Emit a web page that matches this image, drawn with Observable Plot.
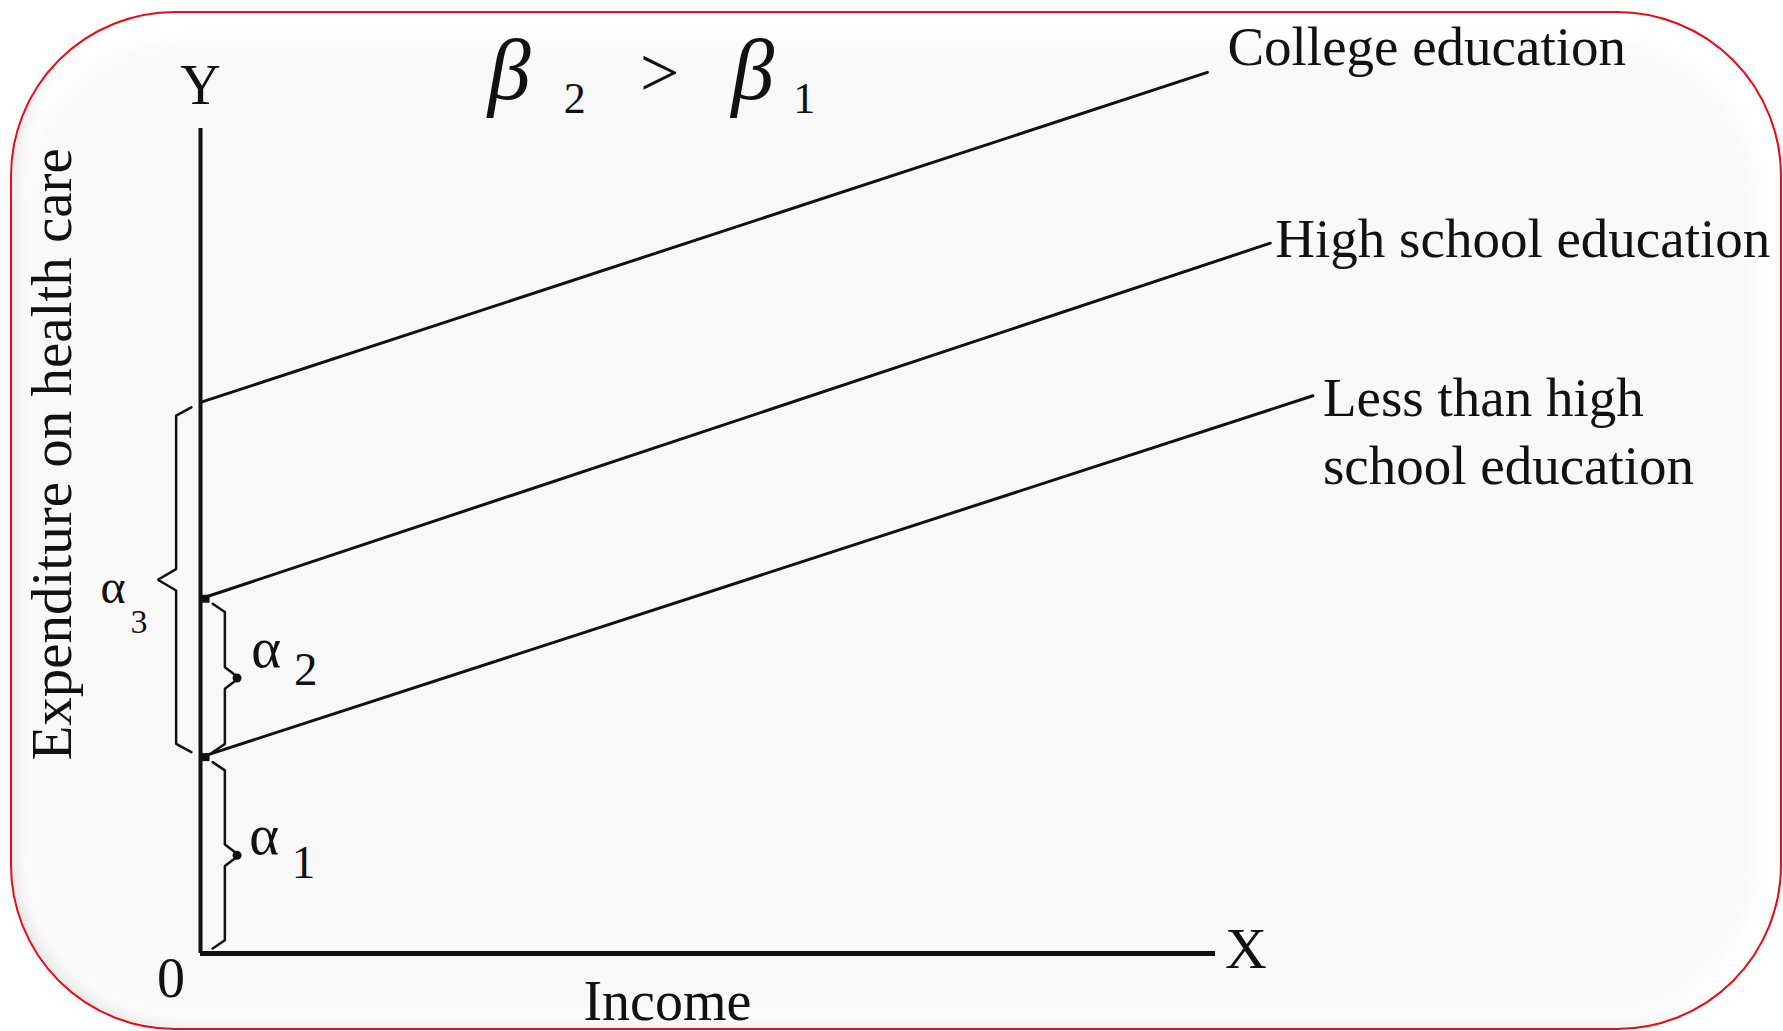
<!DOCTYPE html>
<html><head><meta charset="utf-8">
<script src="https://cdn.jsdelivr.net/npm/d3@7"></script>
<script src="https://cdn.jsdelivr.net/npm/@observablehq/plot@0.6"></script>
<style>
html,body{margin:0;padding:0;width:1783px;height:1031px;overflow:hidden;background:#fff;}
#wrap{position:relative;width:1783px;height:1031px;}
#frame{position:absolute;left:10px;top:11px;width:1768px;height:1015px;border:2px solid #e60d14;border-radius:165px;background:#fff;overflow:hidden;box-shadow:inset 14px -10px 18px -8px rgba(0,0,0,0.10);}
#panel{position:absolute;left:16px;top:30px;right:26px;bottom:12px;border-radius:150px;background:#f8f8f8;filter:blur(9px);}
#chart{position:absolute;left:0;top:0;}
</style></head><body>
<div id="wrap"><div id="frame"><div id="panel"></div></div><div id="chart"></div></div>
<script>
// ---- data ----
const groups = ["College education", "High school education", "Less than high school education"];
const groupLabels = ["College education", "High school education", "Less than high\nschool education"];
const intercepts = [66.8, 43.0, 23.8];   // y at income 0
const endX = [99.2, 105.4, 109.6];       // income at right end of each line
const endY = [106.8, 86.1, 67.6];        // expenditure at right end

const braceNames = ["α", "α", "α"];
const braceSubs = ["1", "2", "3"];
const braceFrom = [0, intercepts[2], intercepts[2]];
const braceTo = [intercepts[2], intercepts[1], intercepts[0]];
const braceSide = [1, 1, -1];

// ---- tables built from the arrays ----
const lineData = groups.flatMap((g, i) => [
  {g, x: 0, y: intercepts[i]},
  {g, x: endX[i], y: endY[i]}
]);
const endData = groups.map((g, i) => ({g, label: groupLabels[i], x: endX[i], y: endY[i]}));

// brace styling (offsets in scale units)
function bracePoints(i) {
  const s = braceSide[i], lo = braceFrom[i], hi = braceTo[i], mid = (lo + hi) / 2;
  const xb = s > 0 ? 2.4 : -2.4, xt = s > 0 ? 3.8 : -4.2, xh = s > 0 ? 1.2 : -0.9;
  return [
    [xh, lo + 0.6], [xb, lo + 1.6], [xb, mid - 1.3], [xt, mid],
    [xb, mid + 1.3], [xb, hi - 1.6], [xh, hi - 0.6]
  ].map(([x, y]) => ({b: i, x, y}));
}
const braceData = braceFrom.flatMap((_, i) => bracePoints(i));
const tipData = braceFrom.map((lo, i) => ({side: braceSide[i], x: braceSide[i] > 0 ? 3.6 : -4.2, y: (lo + braceTo[i]) / 2}))
  .filter(d => d.side > 0);
const interceptDots = [intercepts[1], intercepts[2]].map(y => ({x: 0.5, y}));

// label placement (style)
const labelOffsets = [{dx: 20, dy: -7}, {dx: 5, dy: 14}, {dx: 10, dy: 88}];
const alphaPos = [
  {x: 4.8, y: 12.1, sx: 9.0, sy: 9.2, size: 57, subSize: 47},
  {x: 5.0, y: 34.7, sx: 9.2, sy: 32.5, size: 57, subSize: 47},
  {x: -9.85, y: 42.5, sx: -6.9, sy: 38.9, size: 48, subSize: 34}
];

const font = "Liberation Serif";
const txt = (data, opts) => Plot.text(data, {fill: "#111", fontFamily: font, lineAnchor: "bottom", ...opts});

const chart = Plot.plot({
  width: 1783, height: 1031,
  marginLeft: 200, marginRight: 568, marginTop: 128, marginBottom: 78,
  x: {domain: [0, 100], axis: null},
  y: {domain: [0, 100], axis: null},
  style: {background: "transparent", fontFamily: font, overflow: "visible"},
  marks: [
    // axes
    Plot.ruleX([0], {x: d => d, y1: 0, y2: 100, stroke: "#111", strokeWidth: 4}),
    Plot.ruleY([0], {y: d => d, x1: 0, x2: 100, stroke: "#111", strokeWidth: 5}),
    // regression lines
    Plot.line(lineData, {x: "x", y: "y", z: "g", stroke: "#111", strokeWidth: 3}),
    // braces
    Plot.line(braceData, {x: "x", y: "y", z: "b", stroke: "#111", strokeWidth: 2.5, strokeLinejoin: "miter"}),
    Plot.dot(tipData, {x: "x", y: "y", r: 4.5, fill: "#111", stroke: "none"}),
    Plot.dot(interceptDots, {x: "x", y: "y", r: 4.5, symbol: "square", fill: "#111"}),
    // line end labels
    ...endData.map((d, i) => txt([d], {x: "x", y: "y", text: "label", fontSize: 55, textAnchor: "start",
      lineHeight: 1.236, dx: labelOffsets[i].dx, dy: labelOffsets[i].dy})),
    // axis labels
    txt(["Y"], {x: 0, y: 103, text: d => d, fontSize: 56, textAnchor: "middle"}),
    txt(["X"], {x: 103, y: -1.8, text: d => d, fontSize: 58, textAnchor: "middle"}),
    txt(["0"], {x: -2.9, y: -5.3, text: d => d, fontSize: 56, textAnchor: "middle"}),
    txt(["Income"], {x: 46, y: -8.1, text: d => d, fontSize: 56, textAnchor: "middle"}),
    txt(["Expenditure on health care"], {x: -12.8, y: 60.5, text: d => d, fontSize: 57, rotate: -90, textAnchor: "middle"}),
    // title β2 > β1
    txt(["β"], {x: 28.3, y: 103.6, text: d => d, fontSize: 86, fontStyle: "italic", textAnchor: "start"}),
    txt(["2"], {x: 35.8, y: 101.9, text: d => d, fontSize: 44, textAnchor: "start"}),
    txt([">"], {x: 43.3, y: 103.9, text: d => d, fontSize: 70, textAnchor: "start"}),
    txt(["β"], {x: 52.3, y: 103.6, text: d => d, fontSize: 86, fontStyle: "italic", textAnchor: "start"}),
    txt(["1"], {x: 58.4, y: 101.9, text: d => d, fontSize: 44, textAnchor: "start"}),
    // alpha labels
    ...alphaPos.flatMap((p, i) => [
      txt([braceNames[i]], {x: p.x, y: p.y, text: d => d, fontSize: p.size, textAnchor: "start"}),
      txt([braceSubs[i]], {x: p.sx, y: p.sy, text: d => d, fontSize: p.subSize, textAnchor: "start"})
    ])
  ]
});
document.getElementById("chart").appendChild(chart);
</script>
</body></html>
